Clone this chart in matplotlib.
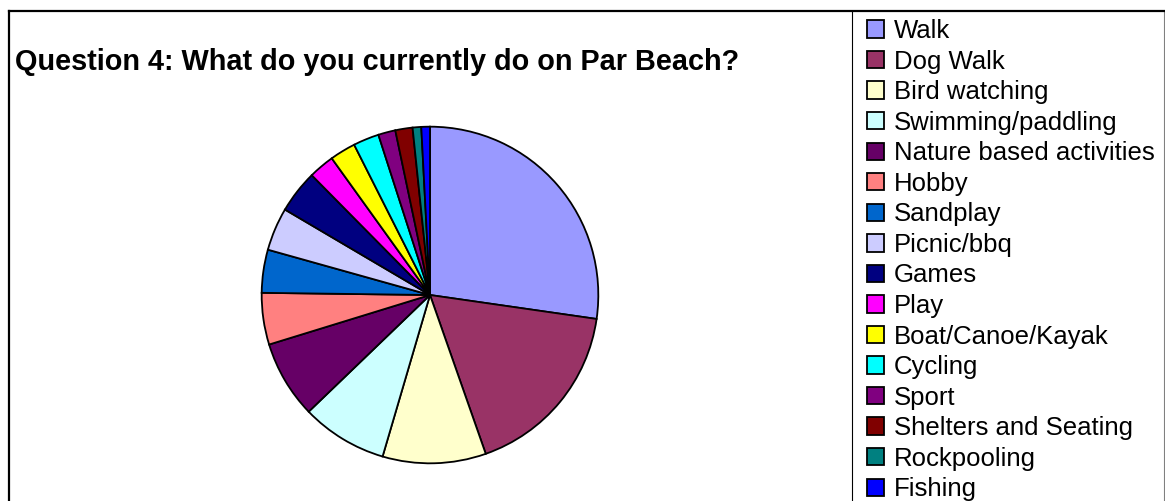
import matplotlib.pyplot as plt
from matplotlib.lines import Line2D

plt.rcParams['font.family'] = ['Liberation Sans', 'DejaVu Sans']

# Responses per activity
activities = ['Walk', 'Dog Walk', 'Bird watching', 'Swimming/paddling',
              'Nature based activities', 'Hobby', 'Sandplay', 'Picnic/bbq',
              'Games', 'Play', 'Boat/Canoe/Kayak', 'Cycling', 'Sport',
              'Shelters and Seating', 'Rockpooling', 'Fishing']
counts = [33, 21, 12, 10, 9, 6, 5, 5, 5, 3, 3, 3, 2, 2, 1, 1]
colors = ['#9999FF', '#993366', '#FFFFCC', '#CCFFFF', '#660066', '#FF8080',
          '#0066CC', '#CCCCFF', '#000080', '#FF00FF', '#FFFF00', '#00FFFF',
          '#800080', '#800000', '#008080', '#0000FF']

W, H = 1165, 501
fig = plt.figure(figsize=(W / 100, H / 100), dpi=100)

def box(x0, y0, w, h):
    # pixel box (top-left origin) -> figure fraction
    return [x0 / W, 1 - (y0 + h) / H, w / W, h / H]

def vline(x, color, lw):
    fig.add_artist(Line2D([x / W, x / W], [0, 1 - 10.5 / H],
                          transform=fig.transFigure, color=color, lw=lw))

# outer frame and legend frame
vline(9, 'black', 1.6)
vline(1164, '#808080', 0.8)
vline(852, 'black', 0.8)
fig.add_artist(Line2D([9 / W, 1164 / W], [1 - 10.5 / H, 1 - 10.5 / H],
                      transform=fig.transFigure, color='black', lw=1.6))

fig.text(15 / W, 1 - 62 / H, 'Question 4: What do you currently do on Par Beach?',
         fontsize=20.8, fontweight='bold', va='center', ha='left')

ax = fig.add_axes(box(260, 125, 340, 340))
wedges, _ = ax.pie(counts, colors=colors, startangle=90, counterclock=False,
                   radius=1, wedgeprops=dict(edgecolor='black', linewidth=1.3))
ax.set_xlim(-1.01, 1.01)
ax.set_ylim(-1.01, 1.01)
ax.set_aspect('equal')

fig.legend(wedges, activities, loc='upper left',
           bbox_to_anchor=(867 / W, 1 - 19 / H), frameon=False,
           fontsize=18.5, handlelength=0.66, handleheight=0.66,
           handletextpad=0.39, labelspacing=0.255, borderpad=0, borderaxespad=0)

fig.savefig('out.png', dpi=100)
